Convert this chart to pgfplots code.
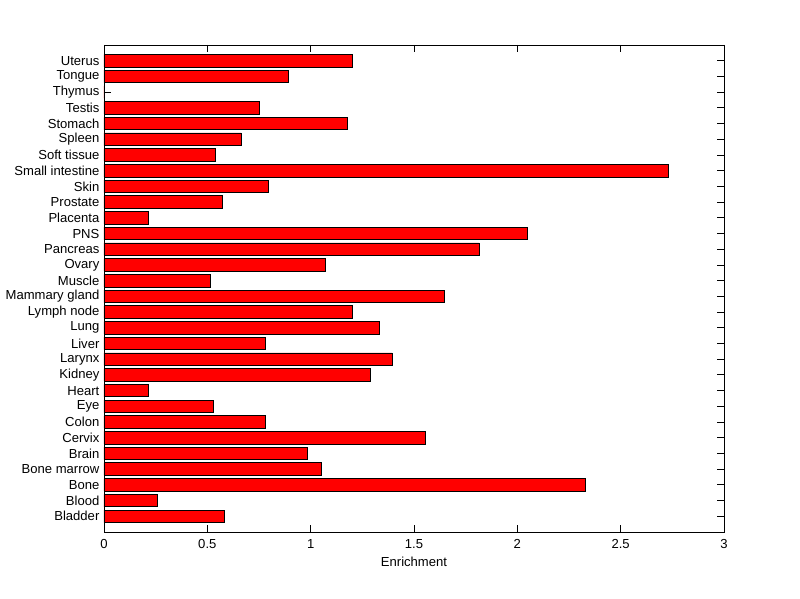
\documentclass[border=0pt]{standalone}
\usepackage{fontspec}
\setmainfont{Liberation Sans}
\usepackage{pgfplots}
\pgfplotsset{compat=1.18}
\begin{document}
\begin{tikzpicture}
\fontsize{9.8pt}{11.8pt}\selectfont
\begin{axis}[
  at={(0,0)}, anchor=origin,
  scale only axis,
  width=465pt, height=365.25pt,
  xmin=0, xmax=3, ymin=0, ymax=31,
  xtick={0,0.5,1,1.5,2,2.5,3},
  ytick={1,...,30},
  yticklabels={Bladder,Blood,Bone,Bone marrow,Brain,Cervix,Colon,Eye,Heart,Kidney,Larynx,Liver,Lung,Lymph node,Mammary gland,Muscle,Ovary,Pancreas,PNS,Placenta,Prostate,Skin,Small intestine,Soft tissue,Spleen,Stomach,Testis,Thymus,Tongue,Uterus},
  major tick length=5pt,
  tick style={black, line width=0.6pt},
  axis line style={line width=0.6pt},
  xticklabel style={font=\fontsize{9.8pt}{11.8pt}\selectfont, yshift=-2pt},
  yticklabel style={font=\fontsize{9.8pt}{11.8pt}\selectfont},
  /pgf/number format/assume math mode=true,
  xlabel={Enrichment},
  xlabel style={font=\fontsize{9.8pt}{11.8pt}\selectfont},
  tick align=inside,
]
\addplot[xbar, bar width=9.4pt, fill=red, draw=black, line width=0.6pt, bar shift=0pt] coordinates {
(0.585,1) (0.256,2) (2.327,3) (1.050,4) (0.982,5) (1.553,6) (0.779,7) (0.527,8) (0.213,9) (1.287,10)
(1.394,11) (0.779,12) (1.331,13) (1.200,14) (1.645,15) (0.513,16) (1.069,17) (1.815,18) (2.047,19) (0.213,20)
(0.571,21) (0.794,22) (2.729,23) (0.537,24) (0.663,25) (1.180,26) (0.750,27) (0,28) (0.890,29) (1.200,30)
};
\end{axis}
\pgfresetboundingbox
\path (-78pt,-50.25pt) rectangle (522pt,399pt);
\end{tikzpicture}
\end{document}
